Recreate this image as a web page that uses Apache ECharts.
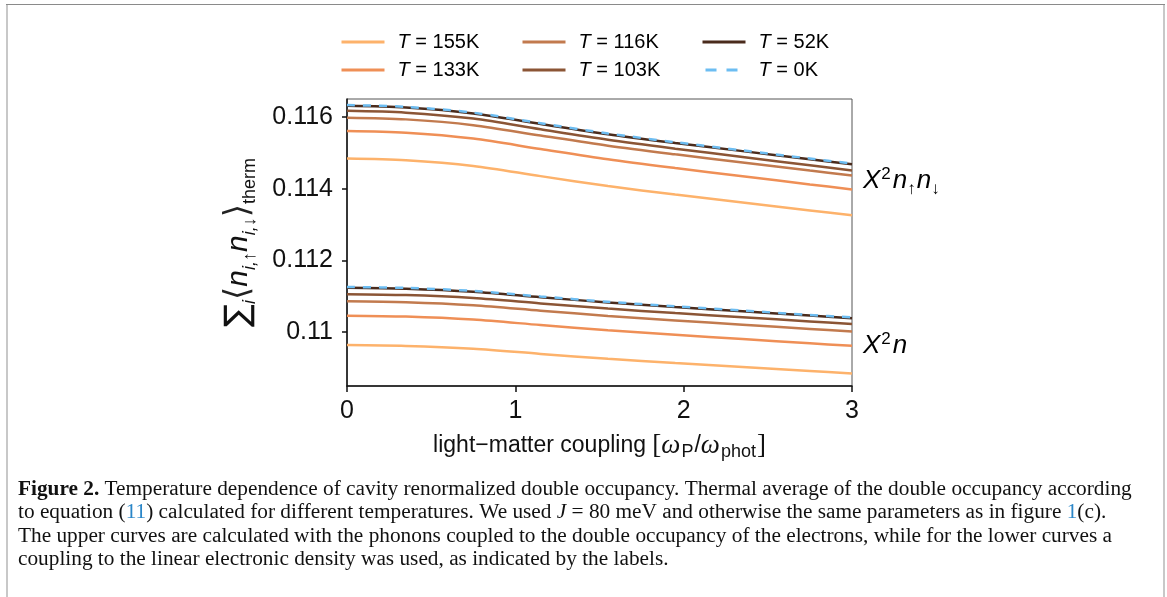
<!DOCTYPE html>
<html><head><meta charset="utf-8">
<script src="https://cdn.jsdelivr.net/npm/echarts@6/dist/echarts.min.js"></script>
<style>html,body{margin:0;padding:0;background:#fff}#c{width:1167px;height:597px}</style>
</head><body><div id="c"></div>
<script>
// ---- data ----
const xValues = [0, 0.35, 0.75, 1.15, 1.55, 1.95, 2.35, 2.75, 3];
const tempNames = ['T = 155K', 'T = 133K', 'T = 116K', 'T = 103K', 'T = 52K', 'T = 0K'];
const upper155 = [0.114840, 0.114793, 0.114635, 0.114350, 0.114074, 0.113837, 0.113615, 0.113394, 0.113260];
const upper133 = [0.115610, 0.115561, 0.115398, 0.115105, 0.114819, 0.114575, 0.114347, 0.114119, 0.113980];
const upper116 = [0.115980, 0.115932, 0.115771, 0.115481, 0.115199, 0.114958, 0.114732, 0.114507, 0.114370];
const upper103 = [0.116170, 0.116120, 0.115954, 0.115655, 0.115365, 0.115116, 0.114883, 0.114651, 0.114510];
const upper52  = [0.116310, 0.116261, 0.116098, 0.115805, 0.115519, 0.115275, 0.115047, 0.114819, 0.114680];
const upper0   = [0.116330, 0.116281, 0.116118, 0.115825, 0.115539, 0.115295, 0.115067, 0.114839, 0.114700];
const lower155 = [0.109640, 0.109616, 0.109537, 0.109395, 0.109257, 0.109138, 0.109028, 0.108917, 0.108850];
const lower133 = [0.110460, 0.110435, 0.110351, 0.110200, 0.110053, 0.109927, 0.109809, 0.109691, 0.109620];
const lower116 = [0.110860, 0.110835, 0.110751, 0.110600, 0.110453, 0.110327, 0.110209, 0.110091, 0.110020];
const lower103 = [0.111060, 0.111035, 0.110952, 0.110803, 0.110657, 0.110533, 0.110417, 0.110301, 0.110230];
const lower52  = [0.111240, 0.111214, 0.111129, 0.110976, 0.110828, 0.110700, 0.110581, 0.110462, 0.110390];
const lower0   = [0.111260, 0.111234, 0.111149, 0.110996, 0.110848, 0.110720, 0.110601, 0.110482, 0.110410];
const xTicks = [0, 1, 2, 3];
const yTicks = [0.11, 0.112, 0.114, 0.116];
const legendColumns = [['T = 155K', 'T = 133K'], ['T = 116K', 'T = 103K'], ['T = 52K', 'T = 0K']];
const captionLines = [
  '{b|Figure 2.} Temperature dependence of cavity renormalized double occupancy. Thermal average of the double occupancy according',
  'to equation ({l|11}) calculated for different temperatures. We used {i|J} = 80 meV and otherwise the same parameters as in figure {l|1}(c).',
  'The upper curves are calculated with the phonons coupled to the double occupancy of the electrons, while for the lower curves a',
  'coupling to the linear electronic density was used, as indicated by the labels.'
];

const colors = {
  'T = 155K': '#fdb26b',
  'T = 133K': '#ef8f56',
  'T = 116K': '#c27a4e',
  'T = 103K': '#8b5535',
  'T = 52K':  '#4a2b1c',
  'T = 0K':   '#6cbdf2'
};
const SANS = '"Liberation Sans", Arial, Helvetica, sans-serif';
const SERIF = '"Liberation Serif", "Times New Roman", serif';

function pairs(arr) { return xValues.map((x, i) => [x, arr[i]]); }

const upperSets = [upper155, upper133, upper116, upper103, upper52, upper0];
const lowerSets = [lower155, lower133, lower116, lower103, lower52, lower0];

const labelRich = {
  x: { fontSize: 26, fontStyle: 'italic', fontFamily: SANS, color: '#000', lineHeight: 34, verticalAlign: 'middle' },
  sup: { fontSize: 17, fontFamily: SANS, color: '#000', lineHeight: 17, verticalAlign: 'top', padding: [2, 2, 0, 1] },
  sub: { fontSize: 17, fontFamily: SANS, color: '#000', lineHeight: 17, verticalAlign: 'bottom', padding: [0, 1, 0, 0] }
};

const series = [];
tempNames.forEach((name, k) => {
  const dashed = name === 'T = 0K';
  const base = {
    name, type: 'line', showSymbol: false, symbol: 'none', smooth: 0.3,
    lineStyle: { color: colors[name], width: 2.5, type: dashed ? [8, 8] : 'solid' },
    itemStyle: { color: colors[name] },
    z: 2 + k
  };
  const up = Object.assign({}, base, { data: pairs(upperSets[k]) });
  const lo = Object.assign({}, base, { data: pairs(lowerSets[k]) });
  if (name === 'T = 133K') {
    up.endLabel = { show: true, distance: 11, offset: [0, -9], color: '#000',
      formatter: '{x|X}{sup|2}{x|n}{sub|↑}{x|n}{sub|↓}', rich: labelRich };
    lo.endLabel = { show: true, distance: 11, offset: [0, 0], color: '#000',
      formatter: '{x|X}{sup|2}{x|n}', rich: labelRich };
  }
  series.push(up, lo);
});

const legendLefts = [340, 521, 701];
const legends = legendColumns.map((col, i) => ({
  left: legendLefts[i], top: 32, orient: 'vertical', padding: 0,
  itemWidth: 43, itemHeight: 14, itemGap: 8,
  itemStyle: { opacity: 0 },
  lineStyle: { width: 3 },
  formatter: n => '{i|T}' + n.slice(1),
  data: col.map(n => n === 'T = 0K'
    ? { name: n, lineStyle: { width: 3, type: [11, 10], dashOffset: 18 } }
    : { name: n }),
  textStyle: { fontSize: 20, lineHeight: 20, fontFamily: SANS, color: '#000', padding: [0, 0, 0, 8],
    rich: { i: { fontSize: 20, lineHeight: 20, fontStyle: 'italic', fontFamily: SANS, color: '#000' } } }
}));

const option = {
  animation: false,
  backgroundColor: '#fff',
  textStyle: { fontFamily: SANS },
  legend: legends,
  grid: { left: 347, top: 99, width: 505, height: 287, show: true, borderColor: '#555', borderWidth: 1 },
  xAxis: {
    type: 'value', min: 0, max: 3, interval: 1,
    axisLine: { show: true, lineStyle: { color: '#111', width: 1.5 } },
    axisTick: { show: true, inside: false, length: 6, lineStyle: { color: '#111', width: 1.5 }, customValues: xTicks },
    axisLabel: { fontSize: 25, color: '#111', fontFamily: SANS, margin: 13, customValues: xTicks },
    splitLine: { show: false },
    name: '{t|light\u2212matter coupling }{b|[}{w|ω}{s|P}{t|/}{w|ω}{s|phot}{b|]}',
    nameLocation: 'middle', nameGap: 45,
    nameTextStyle: { color: '#111', rich: {
      t: { fontSize: 23, fontFamily: SANS, color: '#111', lineHeight: 30 },
      b: { fontSize: 27, fontFamily: SERIF, color: '#111', lineHeight: 30 },
      w: { fontSize: 27, fontFamily: SERIF, fontStyle: 'italic', color: '#111', lineHeight: 30 },
      s: { fontSize: 18, fontFamily: SANS, color: '#111', lineHeight: 18, verticalAlign: 'bottom', padding: [0, 1, 0, 1] }
    } }
  },
  yAxis: {
    type: 'value', min: 0.1085, max: 0.1165,
    axisLine: { show: true, lineStyle: { color: '#111', width: 1.5 } },
    axisTick: { show: true, inside: false, length: 5, lineStyle: { color: '#111', width: 1.5 }, customValues: yTicks },
    axisLabel: { fontSize: 25, color: '#111', fontFamily: SANS, margin: 14, customValues: yTicks,
      formatter: v => String(+v.toFixed(3)) },
    splitLine: { show: false },
    name: '{b|∑}{s|i}{a|⟨}{n|n}{s|i,↑}{n|n}{s|i,↓}{a|⟩}{u|therm}',
    nameLocation: 'middle', nameRotate: 90, nameGap: 88,
    nameTextStyle: { color: '#111', rich: {
      b: { fontSize: 34, fontFamily: '"DejaVu Sans", sans-serif', color: '#111', lineHeight: 40 },
      a: { fontSize: 34, fontFamily: '"DejaVu Sans", sans-serif', color: '#222', lineHeight: 40 },
      n: { fontSize: 30, fontFamily: SANS, fontStyle: 'italic', color: '#111', lineHeight: 40 },
      s: { fontSize: 18, fontFamily: SANS, fontStyle: 'italic', color: '#111', lineHeight: 18, verticalAlign: 'bottom' },
      u: { fontSize: 18, fontFamily: SANS, color: '#111', lineHeight: 18, verticalAlign: 'bottom' }
    } }
  },
  graphic: [
    { type: 'rect', silent: true, shape: { x: 6, y: 4, width: 2, height: 600 }, style: { fill: '#c8c8c8' } },
    { type: 'rect', silent: true, shape: { x: 1163, y: 4, width: 2, height: 600 }, style: { fill: '#c8c8c8' } },
    { type: 'rect', silent: true, shape: { x: 6, y: 4, width: 1159, height: 1 }, style: { fill: '#8a8a8a' } }
  ].concat(captionLines.map((t, i) => ({
    type: 'text', silent: true, x: 18, y: 489 + i * 23.5,
    style: { text: t, fill: '#111', fontSize: 21.3, fontFamily: SERIF, verticalAlign: 'middle',
      rich: {
        b: { fontWeight: 'bold', fontSize: 21.3, fontFamily: SERIF, fill: '#111' },
        l: { fontSize: 21.3, fontFamily: SERIF, fill: '#2a86c8' },
        i: { fontStyle: 'italic', fontSize: 21.3, fontFamily: SERIF, fill: '#111' }
      } }
  }))),
  series
};

const chart = echarts.init(document.getElementById('c'), null, { renderer: 'canvas' });
chart.setOption(option);
</script></body></html>
